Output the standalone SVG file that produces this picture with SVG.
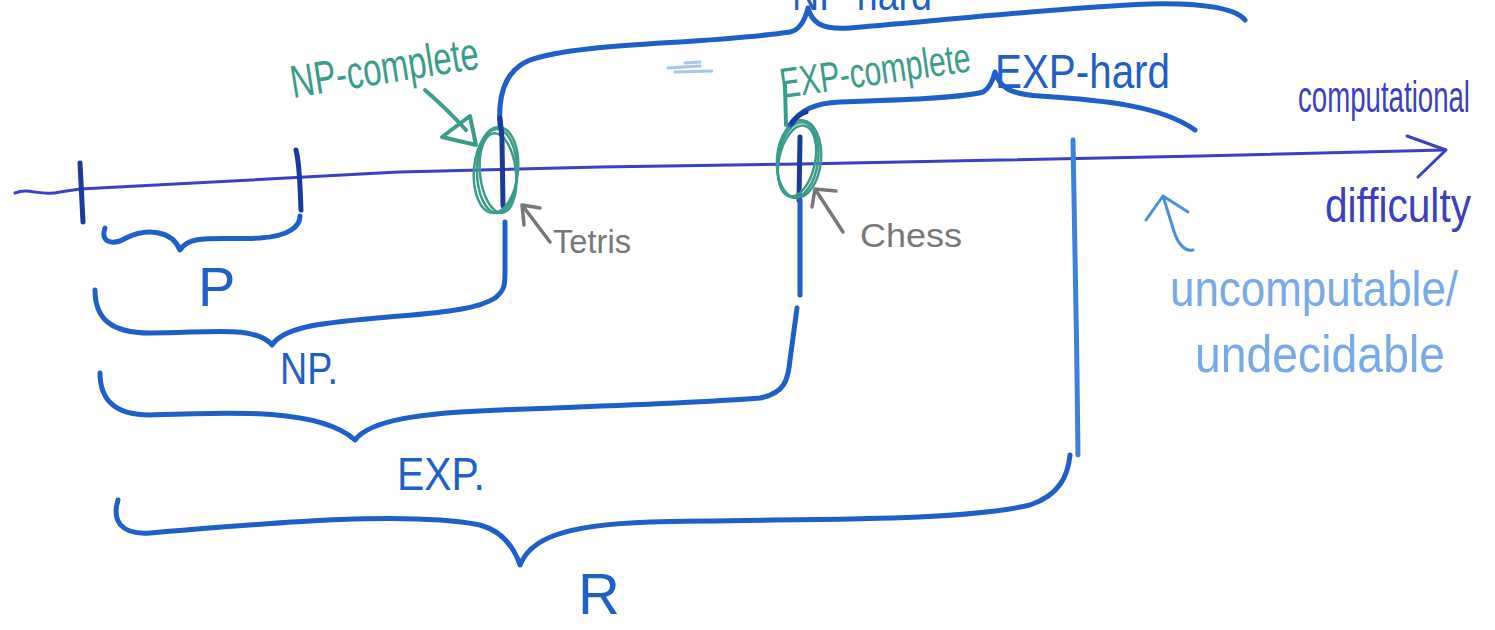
<svg xmlns="http://www.w3.org/2000/svg" width="1495" height="630" viewBox="0 0 1495 630">
  <style>
    .ink { fill: none; stroke: #1f5fc8; stroke-width: 5; stroke-linecap: round; stroke-linejoin: round; }
    .dark { fill: none; stroke: #1b3a9e; stroke-width: 5; stroke-linecap: round; }
    .axis { fill: none; stroke: #3b40c4; stroke-width: 3; stroke-linecap: round; stroke-linejoin: round; }
    .teal { fill: none; stroke: #3a9c8a; stroke-width: 2.5; stroke-linecap: round; stroke-linejoin: round; }
    .grey { fill: none; stroke: #777; stroke-width: 3.5; stroke-linecap: round; stroke-linejoin: round; }
    .faded { fill: none; stroke: #4a8ee0; stroke-width: 3; stroke-linecap: round; stroke-linejoin: round; }
    text { font-family: "Liberation Sans Narrow", "Liberation Sans", sans-serif; }
    .lbl-blue { fill: #1f5fc8; }
    .lbl-teal { fill: #3a9c8a; }
    .lbl-grey { fill: #777; }
    .lbl-violet { fill: #3c3fc0; }
    .lbl-faded { fill: #4a8ee0; opacity: 0.75; }
  </style>

  <!-- difficulty axis with arrow -->
  <g id="axis">
    <path class="axis" d="M15,193 C30,187 40,197 60,192 L80,189 C200,182 300,178 400,172 L600,167 L800,164 L1000,160 L1200,156 L1445,150"/>
    <path class="axis" d="M1407,136 L1446,150 L1418,177"/>
  </g>

  <!-- ticks bounding P -->
  <g id="ticks">
    <path class="dark" d="M80,163 L83,222"/>
    <path class="dark" d="M296,150 C300,165 300,190 301,210"/>
  </g>

  <!-- NP-complete point (Tetris) -->
  <g id="np-complete-point">
    <path class="dark" d="M502,140 L503,206"/>
    <ellipse class="teal" cx="497" cy="171" rx="20" ry="42"/>
    <ellipse class="teal" cx="498" cy="173" rx="18" ry="40" transform="rotate(-6 498 173)"/>
    <ellipse class="teal" cx="496" cy="170" rx="22" ry="43" transform="rotate(5 496 170)"/>
  </g>

  <!-- EXP-complete point (Chess) -->
  <g id="exp-complete-point">
    <path class="dark" d="M800,137 L799,200"/>
    <ellipse class="teal" cx="798" cy="160" rx="20" ry="38" transform="rotate(8 798 160)"/>
    <ellipse class="teal" cx="797" cy="161" rx="18" ry="36" transform="rotate(12 797 161)"/>
    <ellipse class="teal" cx="799" cy="159" rx="22" ry="39" transform="rotate(5 799 159)"/>
  </g>

  <!-- class braces -->
  <g id="connectors">
    <!-- P -->
    <path class="ink" d="M105,228 C100,242 112,246 126,238 C146,228 172,230 180,250 C190,234 215,240 260,238 C290,236 300,226 300,216"/>
    <!-- NP -->
    <path class="ink" d="M95,290 C95,318 110,333 150,333 C210,333 255,325 272,345 C285,325 330,322 400,316 C450,312 480,308 495,298 C505,290 505,285 505,270 L505,222"/>
    <!-- EXP -->
    <path class="ink" d="M800,200 L800,295"/>
    <path class="ink" d="M100,373 C100,400 115,415 150,415 C230,412 320,408 355,440 C370,420 420,413 500,410 C600,406 700,403 760,398 C785,393 788,380 790,360 L797,308"/>
    <!-- R -->
    <path class="ink" d="M118,500 C112,520 120,535 150,533 C250,525 400,510 480,525 C505,532 515,550 520,565 C530,540 560,525 650,522 C800,518 950,523 1030,505 C1060,495 1068,475 1070,455"/>
    <path class="ink" style="stroke:#3f80d8" d="M1073,140 C1075,250 1077,350 1078,455"/>
    <!-- NP-hard -->
    <path class="ink" d="M500,125 C498,95 505,70 530,60 C580,42 700,45 790,32 C800,30 805,20 808,8 C812,22 820,30 850,28 C950,20 1050,8 1150,4 C1200,3 1235,8 1245,20"/>
    <path class="dark" d="M500,118 L502,138"/>
    <!-- EXP-hard -->
    <path class="ink" d="M790,125 C800,110 815,103 840,102 C900,100 960,98 983,92 C990,88 993,80 995,72 C1000,88 1010,94 1040,96 C1100,100 1160,105 1195,130"/>
    <path class="dark" d="M792,123 C796,117 800,114 806,112"/>
    <!-- pointers -->
    <path class="teal" style="stroke-width:4" d="M425,90 C440,103 455,118 466,130"/>
    <path class="teal" style="stroke-width:4" d="M442,137 L470,116 L476,145 Z"/>
    <path class="teal" style="stroke-width:4" d="M785,85 L786,125"/>
    <path class="grey" d="M550,242 L522,205 M522,205 L540,208 M522,205 L524,225"/>
    <path class="grey" d="M843,232 L815,189 M815,189 L836,191 M815,189 L812,207"/>
    <path class="faded" d="M1193,250 C1182,252 1176,240 1172,225 L1163,196 M1146,220 L1163,196 L1188,212"/>
  </g>

  <!-- smudge -->
  <g id="smudge" opacity="0.5">
    <path class="faded" d="M668,68 L700,66 M675,72 L712,71 M685,63 L700,62"/>
  </g>

  <!-- labels -->
  <g id="labels">
    <text class="lbl-blue" x="792" y="10" font-size="44" textLength="140" lengthAdjust="spacingAndGlyphs">NP-hard</text>
    <text class="lbl-teal" x="293" y="98" font-size="46" textLength="190" lengthAdjust="spacingAndGlyphs" transform="rotate(-9 293 98)">NP-complete</text>
    <text class="lbl-teal" x="782" y="98" font-size="42" textLength="192" lengthAdjust="spacingAndGlyphs" transform="rotate(-8 782 98)">EXP-complete</text>
    <text class="lbl-blue" x="995" y="88" font-size="48" textLength="175" lengthAdjust="spacingAndGlyphs">EXP-hard</text>
    <text class="lbl-grey" x="553" y="253" font-size="34" textLength="78" lengthAdjust="spacingAndGlyphs">Tetris</text>
    <text class="lbl-grey" x="860" y="247" font-size="34" textLength="102" lengthAdjust="spacingAndGlyphs">Chess</text>
    <text class="lbl-blue" x="198" y="306" font-size="56">P</text>
    <text class="lbl-blue" x="280" y="384" font-size="44" textLength="58" lengthAdjust="spacingAndGlyphs">NP.</text>
    <text class="lbl-blue" x="397" y="490" font-size="46" textLength="88" lengthAdjust="spacingAndGlyphs">EXP.</text>
    <text class="lbl-blue" x="578" y="614" font-size="58">R</text>
    <text class="lbl-violet" x="1298" y="112" font-size="44" textLength="172" lengthAdjust="spacingAndGlyphs">computational</text>
    <text class="lbl-violet" x="1325" y="222" font-size="48" textLength="146" lengthAdjust="spacingAndGlyphs">difficulty</text>
    <text class="lbl-faded" x="1170" y="306" font-size="50" textLength="288" lengthAdjust="spacingAndGlyphs">uncomputable/</text>
    <text class="lbl-faded" x="1195" y="372" font-size="52" textLength="250" lengthAdjust="spacingAndGlyphs">undecidable</text>
  </g>
</svg>
